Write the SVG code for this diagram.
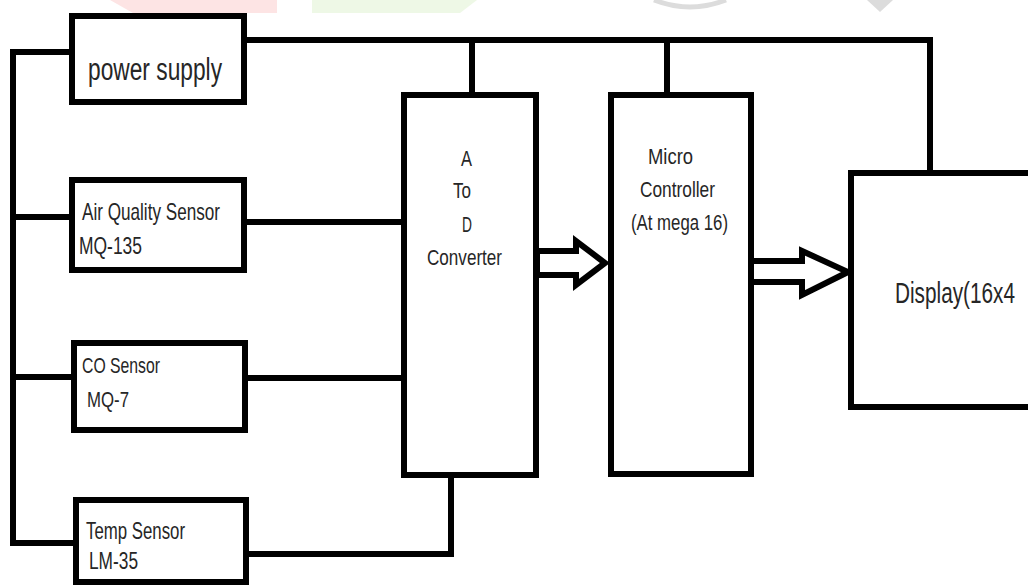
<svg xmlns="http://www.w3.org/2000/svg" width="1028" height="585" viewBox="0 0 1028 585">
<style>
.box{fill:#fff;stroke:#000;stroke-width:6}
.wire{fill:none;stroke:#000;stroke-width:6;stroke-linejoin:miter;stroke-linecap:square}
.arrow{fill:#fff;stroke:#000;stroke-width:6;stroke-linejoin:miter}
.t{font-family:"Liberation Sans Narrow","Liberation Sans",Arial,sans-serif;fill:#262626}
</style>
<rect width="1028" height="585" fill="#fff"/>
<g id="watermark">
<polygon points="110,0 277,0 277,13 133,13" fill="#fde4e4"/>
<polygon points="312,0 477,0 460,13 312,13" fill="#eef8e6"/>
<path d="M654,0 Q690,14 726,0" fill="none" stroke="#dcdcdc" stroke-width="5"/>
<polygon points="867,0 893,0 880,12" fill="#dcdcdc"/>
</g>
<g id="connectors">
<path class="wire" d="M72,52 H13 V543 H76"/>
<path class="wire" d="M13,217 H72"/>
<path class="wire" d="M13,377 H74"/>
<path class="wire" d="M244,40 H930 V173"/>
<path class="wire" d="M472,40 V95"/>
<path class="wire" d="M667,40 V95"/>
<path class="wire" d="M244,222 H404"/>
<path class="wire" d="M245,378 H404"/>
<path class="wire" d="M246,554 H451 V475"/>
<polygon class="arrow" points="537,251 576,251 576,241 605,263 576,285 576,275 537,275"/>
<polygon class="arrow" points="751,261 802,261 802,251 848,272 802,295 802,282 751,282"/>
</g>
<g id="power">
<rect class="box" x="72" y="16" width="172" height="86"/>
<text class="t" x="88" y="80" font-size="31" textLength="134" lengthAdjust="spacingAndGlyphs">power supply</text>
</g>
<g id="airquality">
<rect class="box" x="72" y="180" width="172" height="90"/>
<text class="t" x="82" y="220" font-size="24" textLength="138" lengthAdjust="spacingAndGlyphs">Air Quality Sensor</text>
<text class="t" x="79" y="254" font-size="23" textLength="63" lengthAdjust="spacingAndGlyphs">MQ-135</text>
</g>
<g id="co">
<rect class="box" x="74" y="343" width="171" height="87"/>
<text class="t" x="82" y="373" font-size="22" textLength="78" lengthAdjust="spacingAndGlyphs">CO Sensor</text>
<text class="t" x="87" y="407" font-size="22" textLength="42" lengthAdjust="spacingAndGlyphs">MQ-7</text>
</g>
<g id="temp">
<rect class="box" x="76" y="500" width="170" height="82"/>
<text class="t" x="86" y="539" font-size="24" textLength="99" lengthAdjust="spacingAndGlyphs">Temp Sensor</text>
<text class="t" x="89" y="569" font-size="23" textLength="49" lengthAdjust="spacingAndGlyphs">LM-35</text>
</g>
<g id="adc">
<rect class="box" x="404" y="95" width="132" height="380"/>
<text class="t" x="461" y="166" font-size="22" textLength="11" lengthAdjust="spacingAndGlyphs">A</text>
<text class="t" x="453" y="198" font-size="22" textLength="18" lengthAdjust="spacingAndGlyphs">To</text>
<text class="t" x="462" y="232" font-size="22" textLength="10" lengthAdjust="spacingAndGlyphs">D</text>
<text class="t" x="427" y="265" font-size="22" textLength="75" lengthAdjust="spacingAndGlyphs">Converter</text>
</g>
<g id="micro">
<rect class="box" x="611" y="95" width="140" height="379"/>
<text class="t" x="648" y="164" font-size="22" textLength="45" lengthAdjust="spacingAndGlyphs">Micro</text>
<text class="t" x="640" y="197" font-size="22" textLength="75" lengthAdjust="spacingAndGlyphs">Controller</text>
<text class="t" x="631" y="230" font-size="22" textLength="97" lengthAdjust="spacingAndGlyphs">(At mega 16)</text>
</g>
<g id="display">
<rect class="box" x="851" y="173" width="200" height="234"/>
<text class="t" x="895" y="303" font-size="29" textLength="120" lengthAdjust="spacingAndGlyphs">Display(16x4</text>
</g>
</svg>
